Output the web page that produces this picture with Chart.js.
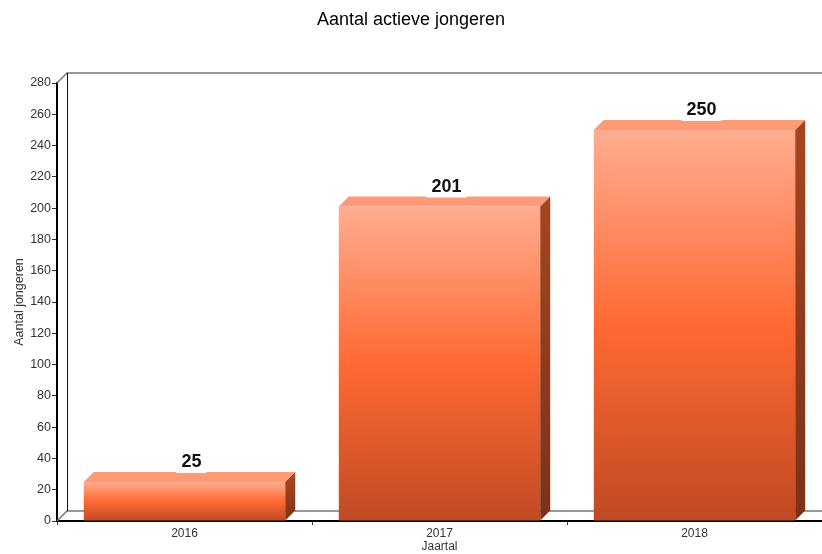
<!DOCTYPE html>
<html>
<head>
<meta charset="utf-8">
<script src="https://cdn.jsdelivr.net/npm/chart.js@4.4.1/dist/chart.umd.min.js"></script>
<style>
    html, body { margin: 0; padding: 0; background: #fff; overflow: hidden; }
    #wrap { width: 822px; height: 554px; position: relative; }
</style>
</head>
<body>
<div id="wrap"><canvas id="barChart"></canvas></div>
<script>
// Data
const years = ['2016', '2017', '2018'];
const activeYouth = [25, 201, 250];
const yTicks = [0, 20, 40, 60, 80, 100, 120, 140, 160, 180, 200, 220, 240, 260, 280];

const depth = 10;
const fontFamily = '"Liberation Sans", Arial, sans-serif';

// front face gradient, built per bar from its own value
function frontGradient(context) {
    const chart = context.chart;
    if (!chart.chartArea) return '#FF6633';
    const y = chart.scales.y;
    const top = y.getPixelForValue(context.raw);
    const bottom = y.getPixelForValue(0);
    const g = chart.ctx.createLinearGradient(0, top, 0, bottom);
    g.addColorStop(0, '#FFAD90');
    g.addColorStop(0.5, '#FF6933');
    g.addColorStop(1, '#C04A23');
    return g;
}

// back wall + floor of the 3D box, then top/side faces and value labels
const wallPlugin = {
    id: 'wall',
    beforeDatasetsDraw(chart) {
        const ctx = chart.ctx;
        const y = chart.scales.y;
        const x = chart.scales.x;
        const left = x.left;
        const right = x.right;
        const top = y.getPixelForValue(yTicks[yTicks.length - 1]);
        const bottom = y.getPixelForValue(0);
        ctx.save();
        ctx.lineWidth = 1.5;
        ctx.strokeStyle = '#777';
        ctx.beginPath();
        ctx.moveTo(left, top);
        ctx.lineTo(left + depth, top - depth);
        ctx.lineTo(right + depth, top - depth);
        ctx.moveTo(left, bottom);
        ctx.lineTo(left + depth, bottom - depth);
        ctx.lineTo(right + depth, bottom - depth);
        ctx.stroke();
        ctx.lineWidth = 1;
        ctx.strokeStyle = '#111';
        ctx.beginPath();
        ctx.moveTo(left + depth + 0.5, top - depth);
        ctx.lineTo(left + depth + 0.5, bottom - depth);
        ctx.stroke();
        ctx.restore();
    },
    afterDatasetsDraw(chart) {
        const ctx = chart.ctx;
        const meta = chart.getDatasetMeta(0);
        ctx.save();
        meta.data.forEach((bar, i) => {
            const l = bar.x - bar.width / 2;
            const r = bar.x + bar.width / 2;
            const t = bar.y;
            const b = bar.base;

            // top face
            ctx.fillStyle = '#FF9A78';
            ctx.beginPath();
            ctx.moveTo(l, t);
            ctx.lineTo(l + depth, t - depth);
            ctx.lineTo(r + depth, t - depth);
            ctx.lineTo(r, t);
            ctx.closePath();
            ctx.fill();

            // side face
            const sg = ctx.createLinearGradient(0, t, 0, b);
            sg.addColorStop(0, '#A5451F');
            sg.addColorStop(1, '#7A3217');
            ctx.fillStyle = sg;
            ctx.beginPath();
            ctx.moveTo(r, t);
            ctx.lineTo(r + depth, t - depth);
            ctx.lineTo(r + depth, b - depth);
            ctx.lineTo(r, b);
            ctx.closePath();
            ctx.fill();

            // value label on a white box
            const text = String(activeYouth[i]);
            const cx = bar.x + 7;
            const cy = t - depth - 11;
            ctx.font = 'bold 18px ' + fontFamily;
            const w = ctx.measureText(text).width + 10;
            ctx.fillStyle = '#fff';
            ctx.fillRect(cx - w / 2, cy - 11, w, 23);
            ctx.fillStyle = '#111';
            ctx.textAlign = 'center';
            ctx.textBaseline = 'middle';
            ctx.fillText(text, cx, cy + 1);
        });
        ctx.restore();
    }
};

const barChart = new Chart(document.getElementById('barChart').getContext('2d'), {
    type: 'bar',
    data: {
        labels: years,
        datasets: [
            {
                label: 'Aantal jongeren',
                data: activeYouth,
                backgroundColor: frontGradient,
                borderWidth: 0,
                categoryPercentage: 1,
                barPercentage: 0.79
            }
        ]
    },
    options: {
        responsive: true,
        maintainAspectRatio: false,
        animation: false,
        devicePixelRatio: 1,
        layout: { padding: { left: 0, right: 0, top: 0, bottom: 0 } },
        plugins: {
            legend: { display: false },
            tooltip: { enabled: false },
            title: {
                display: true,
                text: 'Aantal actieve jongeren',
                color: '#000',
                font: { family: fontFamily, size: 18, weight: 'normal' },
                padding: { top: 9, bottom: 52.4 }
            }
        },
        scales: {
            x: {
                z: 1,
                grid: { drawOnChartArea: false, tickLength: 4, color: '#333', offset: true },
                border: { color: '#000', width: 2 },
                ticks: { color: '#333', padding: 1, font: { family: fontFamily, size: 12 } },
                title: {
                    display: true,
                    text: 'Jaartal',
                    color: '#333',
                    font: { family: fontFamily, size: 12 },
                    padding: 0
                },
                afterFit: s => { s.height = 33; }
            },
            y: {
                min: 0,
                max: 280,
                afterBuildTicks: s => { s.ticks = yTicks.map(v => ({ value: v })); },
                grid: { drawOnChartArea: false, tickLength: 5, color: '#333' },
                border: { color: '#000', width: 2 },
                ticks: { color: '#333', padding: 1, font: { family: fontFamily, size: 12.5 } },
                title: {
                    display: true,
                    text: 'Aantal jongeren',
                    color: '#333',
                    font: { family: fontFamily, size: 12.5 },
                    padding: { top: 12, bottom: 0 }
                },
                afterFit: s => { s.width = 57; }
            }
        }
    },
    plugins: [wallPlugin]
});
</script>
</body>
</html>
